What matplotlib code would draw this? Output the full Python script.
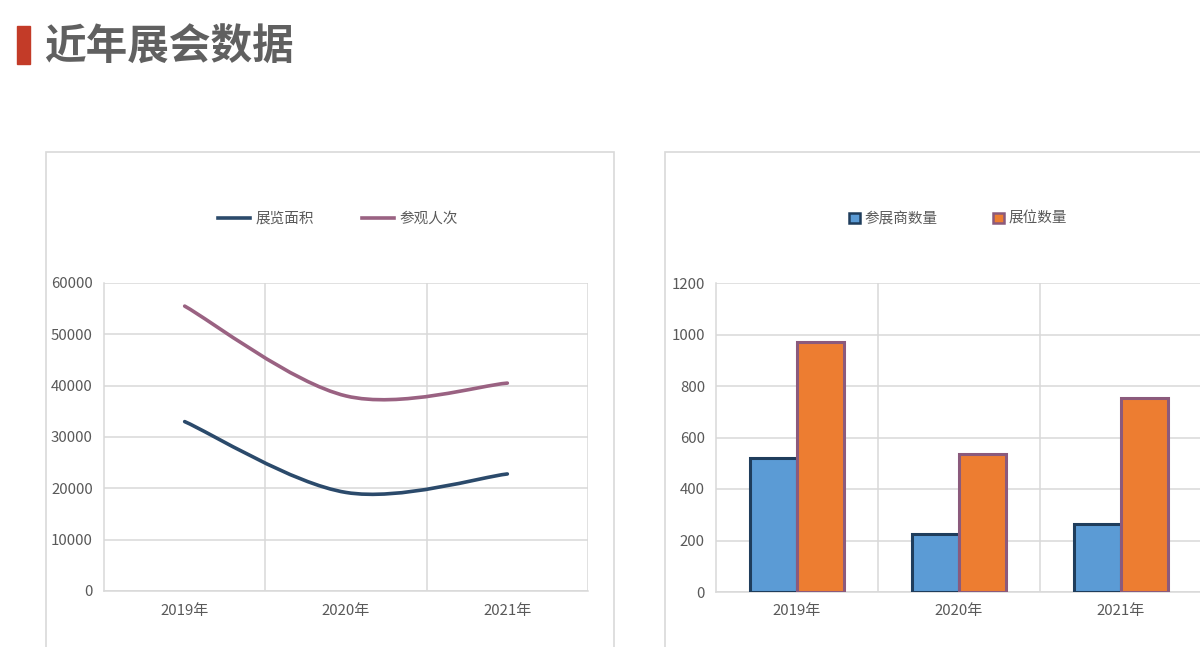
import matplotlib
matplotlib.use("Agg")
import matplotlib.pyplot as plt
from matplotlib.path import Path
from matplotlib.patches import PathPatch, Rectangle
from matplotlib.lines import Line2D
from matplotlib.ticker import FixedLocator

plt.rcParams['font.family'] = ['Noto Sans CJK SC', 'DejaVu Sans']

# ---- data ----
title = "近年展会数据"
years = ["2019年", "2020年", "2021年"]
area_label = "展览面积"
visitors_label = "参观人次"
area = [33000, 19200, 22800]
visitors = [55500, 38000, 40500]
exhib_label = "参展商数量"
booth_label = "展位数量"
exhibitors = [520, 225, 265]
booths = [970, 535, 755]

TXT = "#595959"
GRID = "#d9d9d9"
NAVY = "#2b4a6b"
PINK = "#9a6282"
BLUE = "#5b9bd5"
ORANGE = "#ed7d31"
BLUE_EDGE = "#1f3d5c"
ORANGE_EDGE = "#8b5a7c"

W, H = 1200, 647
fig = plt.figure(figsize=(W / 100, H / 100), dpi=100)
fig.patch.set_facecolor("white")


def box(x0, y0, x1, y1):
    return [x0 / W, 1 - y1 / H, (x1 - x0) / W, (y1 - y0) / H]


# title
fig.patches.append(Rectangle((17 / W, 1 - 64 / H), 13 / W, 38 / H,
                             transform=fig.transFigure, color="#c33b28", zorder=5))
fig.text(44 / W, 1 - 48 / H, title, fontsize=30, color="#606060", fontweight="bold",
         va="center", ha="left")

# panel borders
fig.patches.append(Rectangle((46 / W, -0.1), (614 - 46) / W, 1 - 152 / H + 0.1,
                             transform=fig.transFigure, fill=False, ec=GRID, lw=1.2))
fig.patches.append(Rectangle((665 / W, -0.1), 0.5, 1 - 152 / H + 0.1,
                             transform=fig.transFigure, fill=False, ec=GRID, lw=1.2))


def style_axes(ax, ymax, step):
    ax.set_xlim(-0.5, 2.5)
    ax.set_ylim(0, ymax)
    ax.set_yticks(range(0, ymax + 1, step))
    ax.set_xticks(range(len(years)))
    ax.set_xticklabels(years)
    ax.xaxis.set_minor_locator(FixedLocator([0.5, 1.5, 2.5]))
    ax.grid(True, axis="y", color=GRID, lw=1.1)
    ax.grid(True, axis="x", which="minor", color=GRID, lw=1.1)
    ax.grid(False, axis="x", which="major")
    ax.tick_params(axis="both", which="both", length=0, colors=TXT, labelsize=10.8)
    ax.tick_params(axis="x", pad=9)
    ax.tick_params(axis="y", pad=8)
    for s in ["top", "right"]:
        ax.spines[s].set_visible(False)
    for s in ["left", "bottom"]:
        ax.spines[s].set_color(GRID)
        ax.spines[s].set_linewidth(1.1)
    ax.set_axisbelow(True)
    ax.set_facecolor("none")


# ---- left: smoothed lines ----
ax1 = fig.add_axes(box(104, 283, 588, 591))
style_axes(ax1, 60000, 10000)


def smooth_path(xs, ys):
    pts = list(zip(xs, ys))
    n = len(pts)
    verts = [pts[0]]
    codes = [Path.MOVETO]
    for i in range(n - 1):
        p0 = pts[i - 1] if i > 0 else pts[i]
        p1 = pts[i]
        p2 = pts[i + 1]
        p3 = pts[i + 2] if i + 2 < n else pts[i + 1]
        c1 = (p1[0] + (p2[0] - p0[0]) / 6, p1[1] + (p2[1] - p0[1]) / 6)
        c2 = (p2[0] - (p3[0] - p1[0]) / 6, p2[1] - (p3[1] - p1[1]) / 6)
        verts += [c1, c2, p2]
        codes += [Path.CURVE4] * 3
    return Path(verts, codes)


xs = list(range(len(years)))
for vals, col in [(area, NAVY), (visitors, PINK)]:
    ax1.add_patch(PathPatch(smooth_path(xs, vals), fill=False, ec=col, lw=2.6,
                            capstyle="round", joinstyle="round", zorder=3))

handles1 = [Line2D([], [], color=NAVY, lw=2.6), Line2D([], [], color=PINK, lw=2.6)]
fig.legend(handles1, [area_label, visitors_label], loc="center",
           bbox_to_anchor=(338 / W, 1 - 219 / H), ncol=2, frameon=False,
           fontsize=10.5, labelcolor=TXT, handlelength=2.2, handletextpad=0.35,
           columnspacing=3.3)

# ---- right: bars ----
ax2 = fig.add_axes(box(716, 283, 1202, 592))
style_axes(ax2, 1200, 200)
bw = 0.29
ax2.bar([x - bw / 2 for x in xs], exhibitors, width=bw, color=BLUE,
        edgecolor=BLUE_EDGE, lw=2.2, zorder=3)
ax2.bar([x + bw / 2 for x in xs], booths, width=bw, color=ORANGE,
        edgecolor=ORANGE_EDGE, lw=2.2, zorder=3)

handles2 = [Rectangle((0, 0), 1, 1, fc=BLUE, ec=BLUE_EDGE, lw=1.8),
            Rectangle((0, 0), 1, 1, fc=ORANGE, ec=ORANGE_EDGE, lw=1.8)]
fig.legend(handles2, [exhib_label, booth_label], loc="center",
           bbox_to_anchor=(958 / W, 1 - 219 / H), ncol=2, frameon=False,
           fontsize=10.5, labelcolor=TXT, handlelength=0.75, handleheight=0.75,
           handletextpad=0.3, columnspacing=3.8)

fig.savefig("out.png", dpi=100, facecolor="white")
